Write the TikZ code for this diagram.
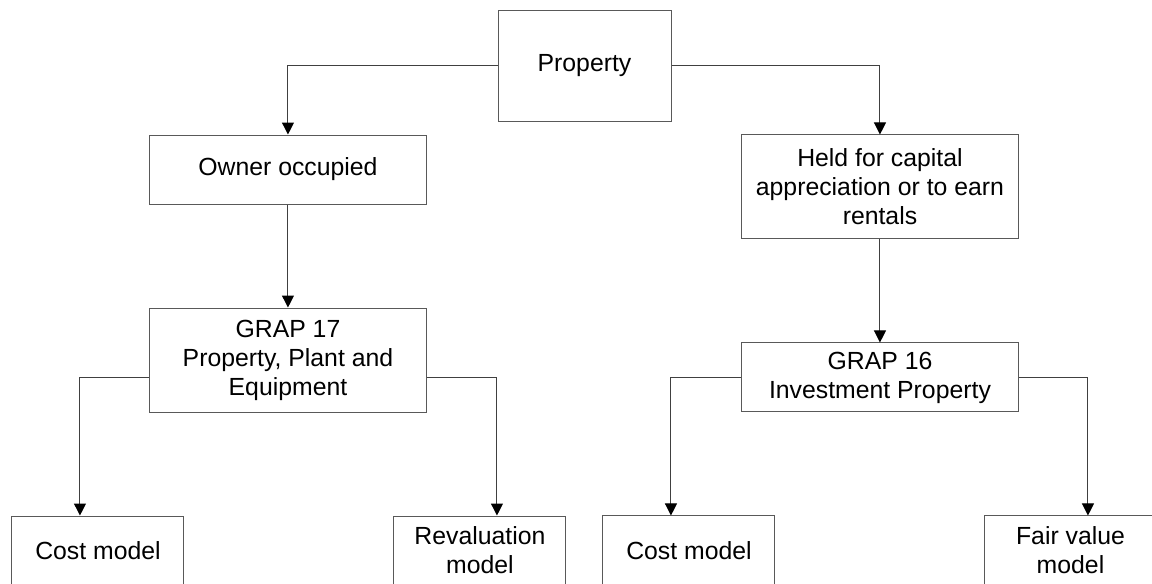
\documentclass[tikz,border=0pt]{standalone}
\usepackage{fontspec}
\setmainfont{Liberation Sans}
\usetikzlibrary{arrows.meta}
\usetikzlibrary{positioning}
\tikzstyle{link} = [draw, draw=black!75, line width=0.75pt, -{Triangle[length=9pt,width=9pt,color=black]}]
\tikzstyle{every block} = [draw, draw=black!65, line width=0.75pt, inner sep=0pt, align=center, font=\fontsize{18.6}{21.75}\selectfont]
\tikzstyle{head} = [rectangle, minimum width=129.75pt, minimum height=83.25pt, every block]
\tikzstyle{class} = [rectangle, minimum width=208pt, every block]
\tikzstyle{model} = [rectangle, minimum width=129pt, minimum height=51.75pt, every block]

\begin{document}
\begin{tikzpicture} [x=0.75pt, y=-0.75pt, node distance=142.875pt]
\clip (0,0) rectangle (1152,583);

% Property

\node[head] (prop) at (584.5,65.5) {Property};

% Owner occupied

\node[class, minimum height=51.75pt] (owner) [below of=prop, node distance=78pt, xshift=-222.4pt] {Owner occupied};

\node[class, minimum height=78pt] (grap17) [below of=owner] {GRAP 17\\Property, Plant and\\Equipment};

\node[model] (costA) [below of=grap17, xshift=-142.5pt] {Cost model};

\node[model] (reval) [below of=grap17, xshift=144pt] {Revaluation\\model};

% Capital appreciation or rentals

\node[class, minimum height=78pt] (held) [below of=prop, node distance=91.1pt, xshift=221.6pt] {Held for capital\\appreciation or to earn\\rentals};

\node[class, minimum height=51.75pt] (grap16) [below of=held] {GRAP 16\\Investment Property};

\node[model] (costB) [below of=grap16, node distance=129.75pt, xshift=-143.25pt] {Cost model};

\node[model] (fair) [below of=grap16, node distance=129.75pt, xshift=142.9pt] {Fair value\\model};

% Links

\draw[link] (prop.west) -| (owner.north);
\draw[link] (prop.east) -| (held.north);
\draw[link] (owner.south) -- (grap17.north);
\draw[link] (held.south) -- (grap16.north);

\draw[link] (grap17.west |- grap16.west) -| ([xshift=-13.5pt]costA.north);
\draw[link] (grap17.east |- grap16.east) -| ([xshift=12.75pt]reval.north);
\draw[link] (grap16.west) -| ([xshift=-13.5pt]costB.north);
\draw[link] (grap16.east) -| ([xshift=13.1pt]fair.north);

\end{tikzpicture}
\end{document}
